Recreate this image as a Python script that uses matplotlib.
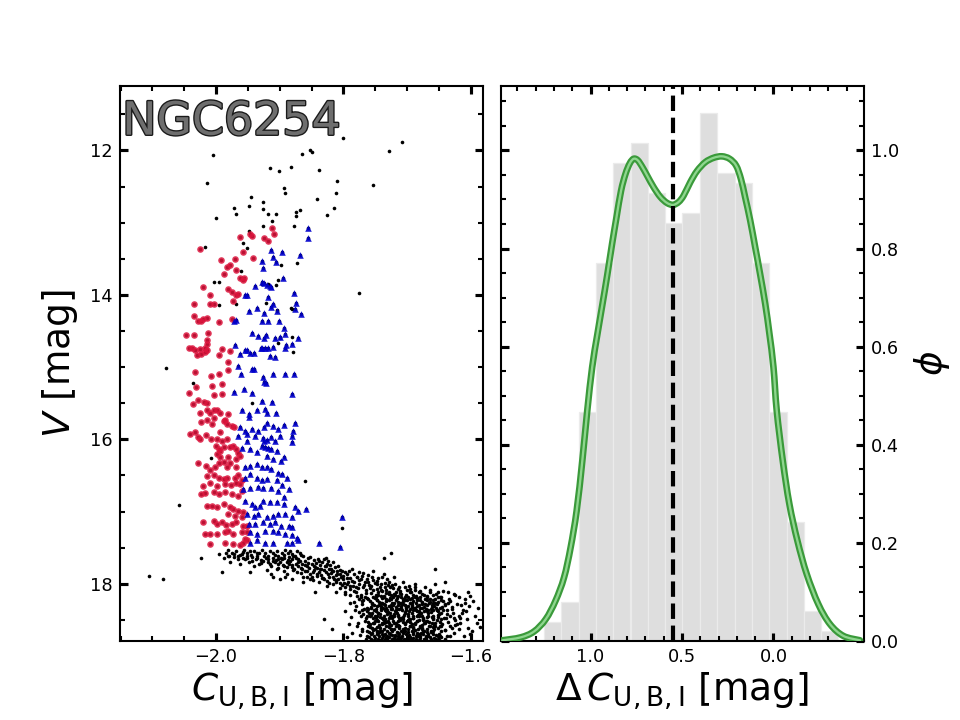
import matplotlib
matplotlib.use("Agg")
import matplotlib.pyplot as plt
import matplotlib.patheffects as pe
from matplotlib.path import Path
from matplotlib.patches import PathPatch
from matplotlib.ticker import MultipleLocator
import numpy as np

# ---------------- data ----------------
cluster_name = "NGC6254"

# first-generation (red) stars: (C_UBI, V)
red_stars = [
    (-2.025,13.36),(-1.962,13.20),(-1.947,13.16),(-1.944,13.19),(-1.924,13.21),(-1.919,13.26),
    (-1.912,13.08),(-1.909,13.16),(-1.957,13.41),(-1.942,13.49),(-1.970,13.50),(-1.993,13.52),
    (-1.983,13.61),(-1.978,13.58),(-1.987,13.71),(-1.969,13.65),(-1.962,13.76),(-1.958,13.80),
    (-1.956,13.76),(-2.020,13.89),(-2.010,14.00),(-1.981,13.92),(-1.975,13.96),(-1.969,14.00),
    (-1.966,13.99),(-1.973,14.09),(-2.034,14.12),(-2.010,14.12),(-2.004,14.12),(-2.035,14.29),
    (-2.029,14.36),(-2.020,14.33),(-2.023,14.36),(-2.015,14.32),(-1.996,14.38),(-1.975,14.34),
    (-2.047,14.56),(-2.034,14.56),(-2.012,14.53),(-2.014,14.62),(-2.015,14.68),(-2.043,14.73),
    (-2.038,14.74),(-2.033,14.76),(-2.025,14.75),(-2.018,14.73),(-2.030,14.83),(-2.024,14.82),
    (-2.017,14.79),(-2.015,14.76),(-1.996,14.83),(-1.991,14.75),(-1.978,14.78),
    (-2.033,15.07),(-2.008,15.12),(-1.995,15.10),(-1.981,15.04),(-1.982,14.93),(-2.032,15.28),
    (-2.042,15.36),(-2.007,15.26),(-2.004,15.38),(-1.991,15.24),(-1.991,15.37),(-2.036,15.51),
    (-2.028,15.46),(-2.019,15.49),(-2.014,15.50),(-2.025,15.63),(-2.014,15.60),(-2.009,15.64),
    (-2.003,15.60),(-1.998,15.59),(-1.994,15.63),(-1.986,15.73),(-1.981,15.65),(-2.023,15.76),
    (-2.015,15.73),(-2.007,15.79),(-2.004,15.70),(-1.988,15.74),(-1.983,15.79),(-1.975,15.81),
    (-1.972,15.83),(-2.041,15.92),(-2.033,15.90),(-2.029,15.97),(-2.026,15.99),(-2.016,15.94),
    (-2.008,16.00),(-1.999,15.99),(-1.994,15.90),(-1.991,16.02),(-1.983,15.99),(-1.978,16.11),
    (-1.974,16.09),(-1.969,16.13),(-1.965,16.19),(-2.000,16.09),(-1.996,16.13),(-1.994,16.16),
    (-1.988,16.11),(-1.999,16.21),(-1.994,16.25),(-1.982,16.25),(-1.968,16.27),(-1.962,16.23),
    (-2.028,16.33),(-2.016,16.37),(-2.009,16.43),(-2.002,16.38),(-1.996,16.33),(-1.988,16.32),
    (-1.983,16.39),(-1.978,16.33),(-1.969,16.38),(-2.015,16.51),(-2.004,16.50),(-1.996,16.53),
    (-1.988,16.55),(-1.983,16.53),(-1.970,16.53),(-1.965,16.50),(-1.960,16.57),(-2.020,16.64),
    (-2.009,16.61),(-1.999,16.64),(-1.986,16.62),(-1.977,16.63),(-1.968,16.61),(-1.962,16.62),
    (-2.024,16.76),(-2.017,16.75),(-2.004,16.73),(-1.996,16.76),(-1.986,16.73),(-1.975,16.76),
    (-1.965,16.78),(-1.960,16.71),(-2.015,16.92),(-2.007,16.92),(-1.999,16.94),(-1.988,16.90),
    (-1.978,16.94),(-1.973,16.97),(-1.965,16.99),(-1.957,17.01),(-1.981,17.03),(-1.970,17.06),
    (-1.960,17.08),(-2.020,17.14),(-2.004,17.13),(-1.999,17.17),(-1.991,17.15),(-1.984,17.18),
    (-1.975,17.17),(-1.968,17.15),(-1.957,17.20),(-1.952,17.20),(-2.017,17.31),(-2.009,17.31),
    (-1.998,17.31),(-1.986,17.29),(-1.982,17.27),(-1.973,17.31),(-1.960,17.29),(-1.952,17.29),
    (-2.009,17.45),(-1.986,17.44),(-1.974,17.45),(-1.962,17.47),(-1.958,17.43),(-1.954,17.38),
    (-1.952,17.40),
]

# second-generation (blue) stars: (C_UBI, V)
blue_stars = [
    (-1.855,13.08),(-1.856,13.21),(-1.868,13.45),(-1.897,13.40),(-1.914,13.38),(-1.928,13.53),
    (-1.927,13.63),(-1.910,13.48),(-1.906,13.55),(-1.895,13.76),(-1.928,13.82),(-1.925,13.84),
    (-1.920,13.86),(-1.916,13.88),(-1.914,13.89),(-1.939,13.88),(-1.955,14.00),(-1.952,14.00),
    (-1.877,13.97),(-1.874,14.11),(-1.876,14.19),(-1.867,14.26),(-1.919,14.03),(-1.911,14.12),
    (-1.913,14.17),(-1.936,14.18),(-1.948,14.22),(-1.924,14.25),(-1.905,14.22),(-1.928,14.36),
    (-1.919,14.36),(-1.901,14.36),(-1.969,14.35),(-1.972,14.36),(-1.894,14.46),(-1.892,14.54),
    (-1.899,14.59),(-1.943,14.53),(-1.934,14.57),(-1.924,14.60),(-1.921,14.56),(-1.907,14.60),
    (-1.923,14.73),(-1.911,14.72),(-1.919,14.74),(-1.928,14.74),(-1.930,14.73),(-1.954,14.76),
    (-1.951,14.77),(-1.947,14.81),(-1.941,14.81),(-1.963,14.82),(-1.890,14.69),(-1.871,14.60),
    (-1.971,14.69),(-1.916,14.84),(-1.907,14.86),(-1.892,14.73),(-1.881,14.68),
    (-1.965,14.98),(-1.961,15.09),(-1.944,15.03),(-1.941,15.03),(-1.926,15.14),(-1.925,15.21),
    (-1.921,15.22),(-1.910,15.10),(-1.891,15.09),(-1.877,15.09),(-1.881,15.37),(-1.972,15.35),
    (-1.956,15.30),(-1.944,15.36),(-1.928,15.47),(-1.912,15.49),(-1.936,15.59),(-1.923,15.58),
    (-1.920,15.63),(-1.906,15.64),(-1.948,15.65),(-1.949,15.69),(-1.960,15.60),(-1.876,15.78),
    (-1.879,15.88),(-1.880,15.95),(-1.880,16.04),(-1.894,15.80),(-1.902,15.86),(-1.899,15.95),
    (-1.910,15.81),(-1.920,15.78),(-1.925,15.83),(-1.934,15.88),(-1.944,15.86),(-1.954,15.88),
    (-1.963,15.83),(-1.965,15.95),(-1.951,15.93),(-1.939,15.95),(-1.927,15.98),(-1.925,16.02),
    (-1.920,16.01),(-1.913,15.97),(-1.907,16.02),(-1.928,16.09),(-1.923,16.10),(-1.918,16.12),
    (-1.913,16.13),(-1.905,16.16),(-1.894,16.25),(-1.952,16.02),(-1.960,16.12),(-1.947,16.13),
    (-1.936,16.18),(-1.920,16.23),(-1.910,16.27),(-1.898,16.30),(-1.954,16.39),(-1.947,16.37),
    (-1.936,16.34),(-1.928,16.38),(-1.920,16.39),(-1.914,16.41),(-1.902,16.46),(-1.897,16.48),
    (-1.889,16.53),(-1.947,16.48),(-1.954,16.53),(-1.936,16.53),(-1.928,16.56),(-1.920,16.55),
    (-1.905,16.57),(-1.897,16.63),(-1.957,16.69),(-1.947,16.67),(-1.934,16.66),(-1.926,16.67),
    (-1.913,16.67),(-1.886,16.69),(-1.902,16.71),(-1.894,16.80),(-1.954,16.85),(-1.944,16.90),
    (-1.939,16.94),(-1.931,16.92),(-1.926,16.85),(-1.916,16.87),(-1.905,16.87),(-1.894,16.90),
    (-1.876,16.94),(-1.871,16.99),(-1.859,16.97),(-1.952,17.03),(-1.941,17.06),(-1.934,17.03),
    (-1.920,17.08),(-1.910,17.06),(-1.902,17.04),(-1.892,17.04),(-1.881,17.07),(-1.949,17.17),
    (-1.939,17.17),(-1.926,17.15),(-1.915,17.17),(-1.907,17.15),(-1.898,17.20),(-1.886,17.20),
    (-1.880,17.22),(-1.947,17.29),(-1.936,17.31),(-1.923,17.27),(-1.910,17.27),(-1.902,17.29),
    (-1.892,17.31),(-1.881,17.33),(-1.873,17.36),(-1.871,17.40),(-1.947,17.43),(-1.936,17.40),
    (-1.923,17.44),(-1.910,17.44),(-1.889,17.44),(-1.881,17.43),(-1.838,17.43),(-1.806,17.49),
    (-1.803,17.08),
]

# other stars (RGB tip, outliers, SGB and upper main sequence): (C_UBI, V)
black_stars = [
    (-1.800,11.83),(-1.708,11.88),(-1.729,12.01),(-1.852,11.99),(-1.850,12.02),(-1.865,12.05),
    (-2.005,12.06),(-1.916,12.24),(-1.901,12.29),(-1.882,12.23),(-1.838,12.27),(-1.810,12.42),
    (-2.014,12.45),(-1.754,12.48),(-1.893,12.52),(-1.892,12.59),(-1.812,12.59),(-1.842,12.67),
    (-1.945,12.64),(-1.949,12.77),(-1.927,12.72),(-1.927,12.81),(-1.972,12.79),(-1.968,12.88),
    (-1.919,12.88),(-1.906,12.88),(-1.868,12.82),(-1.874,12.85),(-1.874,12.91),(-1.815,12.79),
    (-1.826,12.89),(-2.000,12.93),(-1.877,13.04),(-1.927,13.05),(-1.912,12.98),(-1.949,13.11),
    (-2.017,13.34),(-1.873,13.56),(-1.958,13.28),(-1.952,13.35),(-1.898,13.59),(-1.903,13.79),
    (-1.919,13.85),(-1.928,13.85),(-1.906,13.86),(-2.003,13.82),(-1.996,13.82),(-1.961,13.67),
    (-1.775,13.97),(-1.921,14.11),(-1.969,14.13),(-1.883,14.18),(-1.880,14.20),(-1.995,14.14),
    (-1.905,14.21),(-1.899,14.60),(-1.880,14.58),(-1.902,14.66),(-1.879,14.79),
    (-2.079,15.01),(-2.036,15.22),(-1.943,15.50),(-2.008,16.26),(-1.861,16.58),(-2.059,16.91),
    (-1.803,17.23),(-2.023,17.64),(-2.105,17.89),(-2.084,17.93),(-1.991,17.84),(-1.831,18.49),
    (-1.818,18.62),(-1.737,17.64),(-1.725,17.58),(-1.656,17.80),
    # SGB band
    (-1.981,17.53),(-1.975,17.57),(-1.968,17.54),(-1.960,17.59),(-1.956,17.53),(-1.952,17.58),
    (-1.947,17.55),(-1.940,17.54),(-1.935,17.57),(-1.928,17.53),(-1.923,17.58),(-1.916,17.55),
    (-1.910,17.58),(-1.905,17.54),(-1.897,17.57),(-1.892,17.53),(-1.884,17.55),(-1.880,17.59),
    (-1.873,17.54),(-1.868,17.58),
    (-1.988,17.64),(-1.982,17.61),(-1.972,17.63),(-1.965,17.66),(-1.958,17.64),(-1.952,17.64),
    (-1.944,17.68),(-1.936,17.64),(-1.930,17.67),(-1.925,17.61),(-1.918,17.66),(-1.911,17.64),
    (-1.906,17.67),(-1.898,17.64),(-1.893,17.60),(-1.886,17.63),(-1.881,17.66),(-1.874,17.64),
    (-1.869,17.68),(-1.863,17.61),(-1.855,17.64),(-1.847,17.67),(-1.839,17.68),(-1.831,17.66),
    (-1.824,17.68),
    (-1.996,17.59),(-1.978,17.70),(-1.962,17.73),(-1.949,17.70),(-1.940,17.75),(-1.932,17.72),
    (-1.919,17.70),(-1.913,17.75),(-1.902,17.73),(-1.894,17.76),(-1.889,17.70),(-1.881,17.74),
    (-1.872,17.76),(-1.865,17.72),(-1.858,17.75),(-1.850,17.73),(-1.845,17.77),(-1.837,17.74),
    (-1.827,17.76),(-1.821,17.74),(-1.813,17.77),
    (-1.947,17.84),(-1.920,17.81),(-1.913,17.86),(-1.905,17.80),(-1.894,17.83),(-1.889,17.87),
    (-1.879,17.81),(-1.873,17.84),(-1.865,17.80),(-1.858,17.83),(-1.852,17.87),(-1.846,17.81),
    (-1.839,17.84),(-1.831,17.81),(-1.825,17.87),(-1.818,17.83),(-1.810,17.86),(-1.805,17.81),
    (-1.797,17.84),(-1.791,17.82),(-1.784,17.87),(-1.776,17.84),
    (-1.910,17.91),(-1.899,17.94),(-1.892,17.90),(-1.881,17.94),(-1.863,17.91),(-1.852,17.94),
    (-1.842,17.89),(-1.834,17.92),(-1.826,17.96),(-1.817,17.90),(-1.808,17.94),(-1.800,17.89),
    (-1.794,17.92),(-1.787,17.96),(-1.779,17.91),(-1.771,17.89),(-1.763,17.94),(-1.755,17.91),
    (-1.748,17.96),(-1.740,17.90),(-1.732,17.94),
    (-1.908,17.70),(-1.903,17.78),(-1.896,17.66),(-1.889,17.77),(-1.884,17.68),(-1.877,17.79),
    (-1.871,17.70),(-1.866,17.85),(-1.860,17.68),(-1.854,17.78),(-1.849,17.90),(-1.843,17.71),
    (-1.837,17.80),(-1.832,17.92),(-1.826,17.72),(-1.820,17.85),(-1.815,17.94),(-1.809,17.76),
    (-1.804,17.91),(-1.799,17.99),
    (-1.935,17.62),(-1.930,17.71),(-1.922,17.65),(-1.915,17.72),(-1.908,17.60),(-1.900,17.70),
    (-1.893,17.64),(-1.886,17.72),(-1.879,17.62),(-1.872,17.66),(-1.866,17.60),(-1.860,17.74),
    (-1.853,17.63),(-1.846,17.76),(-1.840,17.66),(-1.834,17.70),(-1.828,17.64),(-1.822,17.79),
    (-1.817,17.70),(-1.810,17.82),
    (-1.985,17.57),(-1.979,17.62),(-1.972,17.59),(-1.966,17.62),(-1.958,17.56),(-1.952,17.62),
    (-1.945,17.60),(-1.938,17.66),
    (-1.902,17.62),(-1.895,17.74),(-1.887,17.67),(-1.880,17.77),(-1.874,17.72),(-1.867,17.78),
    (-1.861,17.82),(-1.855,17.71),(-1.848,17.84),(-1.842,17.78),(-1.836,17.88),(-1.829,17.76),
    (-1.823,17.91),(-1.817,17.82),(-1.811,17.97),(-1.806,17.86),(-1.800,17.93),(-1.794,18.01),
    (-1.789,17.92),(-1.783,17.98),(-1.777,18.06),(-1.772,17.93),(-1.766,17.98),(-1.760,18.02),
    (-1.754,17.95),(-1.748,18.07),(-1.741,18.00),(-1.735,18.04),(-1.729,18.11),(-1.722,18.06),
    (-1.962,17.60),(-1.955,17.66),(-1.943,17.63),(-1.932,17.58),(-1.926,17.69),(-1.918,17.61),
    (-1.911,17.68),(-1.903,17.66),(-1.887,17.58),(-1.876,17.61),
    (-1.842,17.86),(-1.835,17.79),(-1.828,17.84),(-1.820,17.80),(-1.812,17.88),(-1.803,17.82),
    (-1.795,17.87),(-1.787,17.80),(-1.778,17.90),(-1.770,17.85),(-1.762,17.88),(-1.754,17.83),
    (-1.745,17.92),(-1.737,17.87),(-1.728,17.97),(-1.720,17.91),
    (-1.858,17.90),(-1.848,17.95),(-1.838,17.97),(-1.830,17.93),(-1.822,17.99),(-1.811,17.95),
    (-1.802,18.02),(-1.793,17.97),(-1.785,18.03),(-1.776,17.95),(-1.768,18.02),(-1.759,18.06),
    (-1.750,17.99),(-1.742,18.04),(-1.733,18.08),(-1.724,18.02),(-1.715,18.07),(-1.706,17.98),
    (-1.697,18.03),(-1.688,18.08),
    (-1.806,18.06),(-1.797,18.11),(-1.789,18.16),(-1.781,18.05),(-1.773,18.19),(-1.765,18.13),
    (-1.757,18.03),(-1.746,18.12),(-1.738,18.18),(-1.730,18.02),(-1.721,18.14),(-1.712,18.05),
    (-1.704,18.18),(-1.696,18.11),(-1.688,18.04),
    # upper main sequence / turn-off clump
    (-1.863,17.98),(-1.845,18.12),(-1.826,18.03),(-1.816,18.00),(-1.805,17.99),(-1.797,18.05),
    (-1.790,18.03),(-1.784,18.10),(-1.776,18.00),(-1.769,18.05),(-1.761,17.98),(-1.753,18.09),
    (-1.748,18.01),(-1.740,18.10),(-1.735,17.99),(-1.727,18.05),(-1.719,18.01),(-1.711,18.10),
    (-1.703,18.04),(-1.695,18.07),(-1.687,18.01),(-1.680,18.10),(-1.672,18.05),(-1.664,18.12),
    (-1.656,18.01),(-1.643,18.10),(-1.640,17.97),(-1.627,18.14),
    (-1.812,18.11),(-1.798,18.14),(-1.790,18.07),(-1.781,18.12),(-1.773,18.15),(-1.765,18.09),
    (-1.757,18.13),(-1.749,18.16),(-1.741,18.08),(-1.733,18.13),(-1.725,18.16),(-1.717,18.11),
    (-1.709,18.14),(-1.700,18.09),(-1.691,18.15),(-1.682,18.12),(-1.673,18.16),(-1.664,18.08),
    (-1.655,18.14),(-1.646,18.18),(-1.636,18.11),(-1.625,18.16),
    (-1.745,18.15),(-1.736,18.17),(-1.728,18.14),(-1.719,18.16),(-1.711,18.13),(-1.702,18.16),
    (-1.694,18.12),(-1.686,18.17),(-1.677,18.14),(-1.669,18.17),(-1.660,18.15),(-1.651,18.12),
    (-1.790,18.26),(-1.779,18.17),(-1.771,18.24),(-1.763,18.20),(-1.755,18.28),(-1.748,18.23),
    (-1.741,18.17),(-1.735,18.30),(-1.727,18.20),(-1.720,18.27),(-1.714,18.17),(-1.707,18.24),
    (-1.701,18.32),(-1.693,18.20),(-1.686,18.26),(-1.680,18.18),(-1.672,18.28),(-1.664,18.21),
    (-1.656,18.27),(-1.648,18.19),(-1.640,18.30),(-1.632,18.24),(-1.622,18.28),(-1.609,18.26),
    (-1.601,18.17),(-1.604,18.12),
    (-1.775,18.21),(-1.766,18.18),(-1.758,18.24),(-1.751,18.20),(-1.744,18.25),(-1.737,18.19),
    (-1.729,18.23),(-1.722,18.18),(-1.714,18.25),(-1.707,18.21),(-1.699,18.18),(-1.691,18.24),
    (-1.684,18.20),(-1.676,18.25),(-1.668,18.19),(-1.660,18.23),(-1.651,18.18),(-1.643,18.24),
    (-1.634,18.21),(-1.618,18.19),
    (-1.770,18.23),(-1.762,18.21),(-1.754,18.18),(-1.747,18.22),(-1.740,18.20),(-1.733,18.24),
    (-1.725,18.21),(-1.718,18.23),(-1.710,18.19),(-1.703,18.23),(-1.695,18.21),(-1.687,18.19),
    (-1.680,18.23),(-1.672,18.21),(-1.664,18.25),(-1.656,18.21),(-1.647,18.22),
    (-1.749,18.19),(-1.741,18.27),(-1.733,18.21),(-1.724,18.26),(-1.716,18.20),(-1.708,18.27),
    (-1.700,18.22),(-1.692,18.27),(-1.684,18.23),(-1.676,18.27),(-1.668,18.22),(-1.660,18.27),
    (-1.652,18.25),
    (-1.752,18.29),(-1.744,18.30),(-1.737,18.28),(-1.729,18.31),(-1.722,18.29),(-1.714,18.30),
    (-1.707,18.28),(-1.699,18.31),(-1.692,18.29),(-1.684,18.31),(-1.677,18.28),(-1.669,18.30),
    (-1.661,18.29),(-1.653,18.28),
    (-1.781,18.31),(-1.771,18.28),(-1.763,18.33),(-1.755,18.27),(-1.748,18.31),(-1.740,18.26),
    (-1.733,18.33),(-1.726,18.29),(-1.718,18.32),(-1.711,18.27),(-1.703,18.30),(-1.696,18.26),
    (-1.688,18.33),(-1.681,18.29),(-1.673,18.32),(-1.665,18.27),(-1.657,18.31),(-1.649,18.34),
    (-1.640,18.28),(-1.630,18.32),(-1.615,18.30),
    (-1.741,18.33),(-1.726,18.35),(-1.710,18.33),(-1.695,18.35),(-1.679,18.33),(-1.663,18.35),
    (-1.757,18.32),(-1.749,18.35),(-1.741,18.31),(-1.733,18.38),(-1.725,18.32),(-1.717,18.37),
    (-1.709,18.31),(-1.701,18.37),(-1.693,18.32),(-1.685,18.38),(-1.677,18.33),(-1.669,18.37),
    (-1.661,18.32),(-1.653,18.36),(-1.645,18.32),
    (-1.782,18.36),(-1.769,18.42),(-1.761,18.35),(-1.753,18.47),(-1.745,18.40),(-1.738,18.49),
    (-1.731,18.37),(-1.724,18.44),(-1.716,18.35),(-1.710,18.48),(-1.703,18.41),(-1.696,18.49),
    (-1.690,18.36),(-1.682,18.44),(-1.675,18.50),(-1.669,18.38),(-1.661,18.46),(-1.653,18.37),
    (-1.646,18.49),(-1.638,18.42),(-1.627,18.47),(-1.619,18.44),(-1.612,18.37),
    (-1.776,18.39),(-1.767,18.35),(-1.760,18.40),(-1.752,18.36),(-1.745,18.41),(-1.738,18.34),
    (-1.730,18.39),(-1.723,18.35),(-1.716,18.41),(-1.708,18.37),(-1.701,18.34),(-1.693,18.40),
    (-1.686,18.36),(-1.678,18.41),(-1.671,18.35),(-1.663,18.39),(-1.655,18.34),(-1.647,18.40),
    (-1.638,18.36),(-1.628,18.41),(-1.608,18.38),
    (-1.771,18.37),(-1.763,18.38),(-1.756,18.34),(-1.749,18.38),(-1.741,18.37),(-1.734,18.36),
    (-1.727,18.40),(-1.719,18.38),(-1.712,18.35),(-1.704,18.39),(-1.697,18.38),(-1.689,18.34),
    (-1.682,18.38),(-1.674,18.38),(-1.667,18.36),(-1.659,18.37),(-1.651,18.38),(-1.643,18.37),
    (-1.758,18.44),(-1.751,18.45),(-1.743,18.46),(-1.736,18.44),(-1.729,18.47),(-1.721,18.45),
    (-1.714,18.44),(-1.706,18.46),(-1.699,18.44),(-1.691,18.47),(-1.684,18.45),(-1.676,18.44),
    (-1.668,18.46),(-1.660,18.45),(-1.652,18.46),
    (-1.763,18.45),(-1.755,18.41),(-1.747,18.44),(-1.739,18.47),(-1.731,18.42),(-1.723,18.48),
    (-1.715,18.43),(-1.707,18.49),(-1.699,18.42),(-1.691,18.48),(-1.683,18.43),(-1.675,18.49),
    (-1.667,18.41),(-1.659,18.47),(-1.650,18.42),
    (-1.788,18.46),(-1.772,18.44),(-1.764,18.48),(-1.756,18.43),(-1.749,18.47),(-1.742,18.42),
    (-1.735,18.49),(-1.727,18.45),(-1.720,18.42),(-1.712,18.47),(-1.705,18.43),(-1.697,18.49),
    (-1.690,18.45),(-1.682,18.42),(-1.675,18.47),(-1.667,18.44),(-1.659,18.49),(-1.651,18.43),
    (-1.642,18.47),(-1.633,18.44),(-1.617,18.48),
    (-1.745,18.51),(-1.730,18.52),(-1.715,18.51),(-1.700,18.52),(-1.685,18.51),(-1.670,18.52),
    (-1.777,18.55),(-1.766,18.51),(-1.758,18.56),(-1.751,18.52),(-1.744,18.57),(-1.737,18.50),
    (-1.729,18.55),(-1.722,18.51),(-1.714,18.57),(-1.707,18.53),(-1.699,18.50),(-1.692,18.56),
    (-1.684,18.52),(-1.677,18.57),(-1.669,18.51),(-1.661,18.55),(-1.653,18.50),(-1.645,18.56),
    (-1.636,18.53),(-1.624,18.57),
    (-1.762,18.53),(-1.754,18.54),(-1.747,18.50),(-1.740,18.54),(-1.733,18.53),(-1.726,18.57),
    (-1.718,18.54),(-1.711,18.50),(-1.703,18.55),(-1.696,18.53),(-1.688,18.54),(-1.681,18.50),
    (-1.673,18.54),(-1.665,18.53),(-1.657,18.57),(-1.649,18.53),
    (-1.760,18.57),(-1.752,18.55),(-1.744,18.59),(-1.736,18.55),(-1.728,18.58),(-1.720,18.55),
    (-1.712,18.59),(-1.704,18.56),(-1.696,18.59),(-1.688,18.56),(-1.680,18.58),(-1.672,18.55),
    (-1.664,18.59),(-1.656,18.55),(-1.647,18.59),
    (-1.779,18.58),(-1.771,18.65),(-1.763,18.72),(-1.755,18.61),(-1.748,18.67),(-1.740,18.56),
    (-1.733,18.74),(-1.726,18.63),(-1.719,18.71),(-1.712,18.58),(-1.705,18.66),(-1.698,18.77),
    (-1.690,18.61),(-1.684,18.70),(-1.677,18.63),(-1.670,18.74),(-1.663,18.66),(-1.656,18.58),
    (-1.649,18.72),(-1.640,18.64),(-1.632,18.73),(-1.622,18.56),(-1.604,18.61),(-1.601,18.70),
    (-1.758,18.60),(-1.750,18.62),(-1.743,18.61),(-1.736,18.62),(-1.728,18.60),(-1.721,18.62),
    (-1.713,18.61),(-1.706,18.63),(-1.698,18.62),(-1.691,18.60),(-1.683,18.62),(-1.676,18.61),
    (-1.668,18.62),(-1.660,18.60),(-1.652,18.61),
    (-1.771,18.62),(-1.762,18.59),(-1.754,18.64),(-1.747,18.60),(-1.740,18.65),(-1.733,18.58),
    (-1.725,18.63),(-1.718,18.59),(-1.710,18.65),(-1.703,18.61),(-1.695,18.58),(-1.688,18.64),
    (-1.680,18.60),(-1.673,18.65),(-1.665,18.59),(-1.657,18.63),(-1.649,18.58),(-1.641,18.64),
    (-1.630,18.61),
    (-1.744,18.67),(-1.729,18.68),(-1.714,18.68),(-1.699,18.67),(-1.684,18.68),(-1.669,18.67),
    (-1.763,18.66),(-1.755,18.68),(-1.747,18.65),(-1.739,18.69),(-1.731,18.72),(-1.723,18.66),
    (-1.715,18.72),(-1.707,18.68),(-1.699,18.73),(-1.691,18.67),(-1.683,18.73),(-1.675,18.69),
    (-1.667,18.72),(-1.659,18.66),(-1.650,18.70),
    (-1.774,18.71),(-1.760,18.67),(-1.752,18.72),(-1.745,18.68),(-1.738,18.73),(-1.731,18.66),
    (-1.723,18.71),(-1.716,18.67),(-1.708,18.73),(-1.701,18.69),(-1.693,18.66),(-1.686,18.72),
    (-1.678,18.68),(-1.671,18.73),(-1.663,18.67),(-1.655,18.71),(-1.646,18.66),(-1.637,18.72),
    (-1.756,18.69),(-1.748,18.70),(-1.742,18.66),(-1.734,18.70),(-1.727,18.69),(-1.719,18.73),
    (-1.712,18.70),(-1.704,18.66),(-1.697,18.71),(-1.690,18.69),(-1.682,18.70),(-1.675,18.66),
    (-1.667,18.70),(-1.659,18.69),(-1.651,18.73),
    (-1.765,18.77),(-1.750,18.75),(-1.743,18.78),(-1.735,18.76),(-1.727,18.79),(-1.720,18.75),
    (-1.712,18.78),(-1.705,18.76),(-1.697,18.79),(-1.690,18.75),(-1.682,18.78),(-1.674,18.76),
    (-1.666,18.79),(-1.658,18.75),(-1.650,18.78),(-1.641,18.76),
    (-1.757,18.76),(-1.746,18.77),(-1.739,18.75),(-1.731,18.77),(-1.724,18.76),(-1.716,18.77),
    (-1.709,18.75),(-1.701,18.77),(-1.694,18.76),(-1.686,18.77),(-1.679,18.75),(-1.671,18.77),
    (-1.662,18.76),(-1.654,18.77),
    (-1.760,18.74),(-1.752,18.78),(-1.744,18.73),(-1.736,18.79),(-1.728,18.74),(-1.720,18.78),
    (-1.712,18.74),(-1.704,18.79),(-1.696,18.74),(-1.688,18.79),(-1.680,18.73),(-1.672,18.78),
    (-1.664,18.74),(-1.656,18.79),(-1.646,18.74),
    (-1.636,18.27),(-1.629,18.35),(-1.624,18.50),(-1.619,18.62),(-1.614,18.41),(-1.611,18.72),
    (-1.606,18.49),(-1.603,18.31),(-1.626,18.68),(-1.633,18.58),(-1.639,18.47),(-1.617,18.55),
    (-1.609,18.21),(-1.593,18.45),(-1.585,18.60),
    (-1.596,18.24),(-1.590,18.55),(-1.598,18.66),(-1.588,18.33),(-1.798,18.38),(-1.792,18.56),
    (-1.786,18.68),(-1.795,18.74),(-1.783,18.25),
]

# histogram of Delta C_UBI (bin centres, normalised heights)
hist_centres = [1.208, 1.113, 1.018, 0.923, 0.829, 0.734, 0.639, 0.544, 0.450,
                0.355, 0.260, 0.165, 0.071, -0.024, -0.119, -0.214, -0.308]
hist_heights = [0.039, 0.080, 0.466, 0.770, 0.974, 1.015, 0.913, 0.852, 0.872,
                1.076, 0.954, 0.933, 0.770, 0.466, 0.243, 0.060, 0.019]
hist_bin_width = 0.0948

# kernel density curve
kde_dc = [1.482, 1.382, 1.309, 1.245, 1.191, 1.145, 1.109, 1.076, 1.045, 1.018,
          0.991, 0.964, 0.936, 0.909, 0.882, 0.858, 0.833, 0.809, 0.785, 0.764,
          0.742, 0.718, 0.691, 0.655, 0.618, 0.582, 0.549, 0.518, 0.491, 0.455,
          0.418, 0.373, 0.327, 0.282, 0.240, 0.204, 0.178, 0.155, 0.127, 0.100,
          0.073, 0.045, 0.022, 0.000, -0.018, -0.051, -0.087, -0.131, -0.182,
          -0.245, -0.309, -0.382, -0.473]
kde_phi = [0.001, 0.007, 0.019, 0.044, 0.082, 0.129, 0.190, 0.265, 0.367, 0.469,
           0.558, 0.622, 0.684, 0.745, 0.810, 0.864, 0.918, 0.952, 0.974, 0.983,
           0.980, 0.967, 0.949, 0.925, 0.905, 0.893, 0.889, 0.895, 0.908, 0.935,
           0.958, 0.976, 0.985, 0.988, 0.983, 0.969, 0.942, 0.905, 0.857, 0.803,
           0.748, 0.687, 0.626, 0.558, 0.469, 0.367, 0.279, 0.204, 0.136,
           0.075, 0.034, 0.010, 0.001]

separation = 0.549  # dashed line position


def smooth_path(xs, ys):
    """Draw a smooth curve through the read points (Catmull-Rom as Bezier)."""
    p = np.column_stack([xs, ys])
    n = len(p)
    verts = [p[0]]
    codes = [Path.MOVETO]
    for i in range(n - 1):
        p0 = p[i - 1] if i > 0 else p[i]
        p1 = p[i]
        p2 = p[i + 1]
        p3 = p[i + 2] if i + 2 < n else p[i + 1]
        c1 = p1 + (p2 - p0) / 6.0
        c2 = p2 - (p3 - p1) / 6.0
        verts += [c1, c2, p2]
        codes += [Path.CURVE4] * 3
    return Path(verts, codes)


# ---------------- figure ----------------
plt.rcParams["font.family"] = ["DejaVu Sans"]
plt.rcParams["mathtext.fontset"] = "dejavusans"

fig, (ax1, ax2) = plt.subplots(1, 2, figsize=(6.4, 4.8), dpi=150)
fig.subplots_adjust(left=0.125, right=0.9, bottom=0.11, top=0.88, wspace=0.047)

rx = [p[0] for p in red_stars]; rv = [p[1] for p in red_stars]
bx = [p[0] for p in blue_stars]; bv = [p[1] for p in blue_stars]
kx = [p[0] for p in black_stars]; kv = [p[1] for p in black_stars]

ax1.scatter(kx + rx + bx, kv + rv + bv, s=3.0, c="black", marker="o",
            linewidths=0, zorder=2)
ax1.scatter(rx, rv, s=10, c="#dc143c", marker="o", linewidths=0, alpha=0.85, zorder=3)
ax1.scatter(bx, bv, s=10, c="#0000cd", marker="^", linewidths=0, alpha=0.9, zorder=3)

ax1.set_xlim(-2.151, -1.580)
ax1.set_ylim(18.79, 11.113)
ax1.xaxis.set_major_locator(MultipleLocator(0.2))
ax1.xaxis.set_minor_locator(MultipleLocator(0.05))
ax1.yaxis.set_major_locator(MultipleLocator(2))
ax1.yaxis.set_minor_locator(MultipleLocator(0.5))
ax1.set_xlabel(r"$C_{\mathrm{U,B,I}}$ [mag]", fontsize=18, labelpad=2)
ax1.set_ylabel(r"$V$ [mag]", fontsize=18, labelpad=5)
ax1.text(0.006, 0.913, cluster_name, transform=ax1.transAxes, fontsize=22,
         color="#6e6e6e", ha="left", va="baseline",
         path_effects=[pe.withStroke(linewidth=1.3, foreground="#1a1a1a")])

# right panel
ax2.bar(hist_centres, hist_heights, width=hist_bin_width, color="#dedede",
        edgecolor="#ebebeb", linewidth=0.6, zorder=1)
kde_path = smooth_path(kde_dc, kde_phi)
ax2.add_patch(PathPatch(kde_path, fill=False, edgecolor="#3a9a3a", lw=3.2,
                        capstyle="round", joinstyle="round", zorder=3))
ax2.add_patch(PathPatch(kde_path, fill=False, edgecolor="#8fd68f", lw=1.1,
                        capstyle="round", joinstyle="round", zorder=4))
ax2.axvline(separation, color="black", ls="--", lw=2, zorder=5)

ax2.set_xlim(1.492, -0.495)
ax2.set_ylim(0, 1.1306)
ax2.xaxis.set_major_locator(MultipleLocator(0.5))
ax2.xaxis.set_minor_locator(MultipleLocator(0.1))
ax2.yaxis.set_major_locator(MultipleLocator(0.2))
ax2.yaxis.set_minor_locator(MultipleLocator(0.05))
ax2.yaxis.tick_right()
ax2.yaxis.set_label_position("right")
ax2.set_xlabel(r"$\Delta\,C_{\mathrm{U,B,I}}$ [mag]", fontsize=18, labelpad=2)
ax2.set_ylabel(r"$\phi$", fontsize=18, labelpad=6)

for ax in (ax1, ax2):
    ax.tick_params(which="both", direction="in", top=True, bottom=True,
                   left=True, right=True, labelsize=8.5)
    ax.tick_params(which="major", length=4, width=1.5)
    ax.tick_params(which="minor", length=2.5, width=1.0)
    for sp in ax.spines.values():
        sp.set_linewidth(1.0)
ax2.tick_params(labelleft=False, labelright=True)

fig.savefig("out.png", dpi=150)
